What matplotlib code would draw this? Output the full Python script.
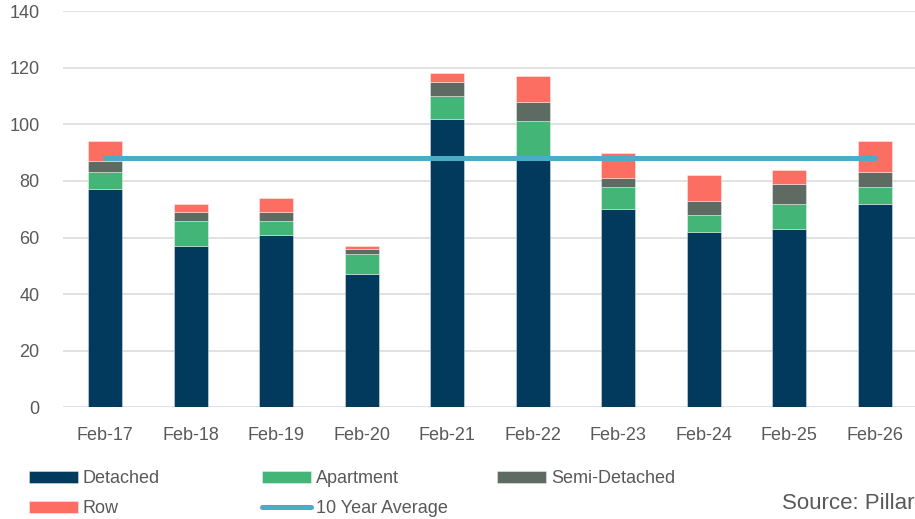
import numpy as np
import matplotlib
matplotlib.use("Agg")
import matplotlib.pyplot as plt

plt.rcParams['font.family'] = ['Liberation Sans', 'DejaVu Sans']

# data
months = ["Feb-17", "Feb-18", "Feb-19", "Feb-20", "Feb-21",
          "Feb-22", "Feb-23", "Feb-24", "Feb-25", "Feb-26"]
detached = [77, 57, 61, 47, 102, 88, 70, 62, 63, 72]
apartment = [6, 9, 5, 7, 8, 13, 8, 6, 9, 6]
semi_detached = [4, 3, 3, 2, 5, 7, 3, 5, 7, 5]
row = [7, 3, 5, 1, 3, 9, 9, 9, 5, 11]
ten_year_avg = [88] * len(months)

c_det = '#023A5E'
c_apt = '#42B577'
c_semi = '#5E6B63'
c_row = '#FD6E62'
c_avg = '#4BACC6'
txt = '#595959'

W, H = 915, 519
fig = plt.figure(figsize=(W / 100, H / 100), dpi=100)
ax = fig.add_axes([62.5 / W, (H - 407.3) / H, (W - 62.5) / W, (407.3 - 11.1) / H])

x = np.arange(len(months))
bw = 0.40
edge = (1, 1, 1, 0.45)
b1 = ax.bar(x, detached, bw, color=c_det, edgecolor=edge, linewidth=0.6, zorder=2)
bot = np.array(detached)
b2 = ax.bar(x, apartment, bw, bottom=bot, color=c_apt, edgecolor=edge, linewidth=0.6, zorder=2)
bot = bot + np.array(apartment)
b3 = ax.bar(x, semi_detached, bw, bottom=bot, color=c_semi, edgecolor=edge, linewidth=0.6, zorder=2)
bot = bot + np.array(semi_detached)
b4 = ax.bar(x, row, bw, bottom=bot, color=c_row, edgecolor=edge, linewidth=0.6, zorder=2)
ln, = ax.plot(x, ten_year_avg, color=c_avg, lw=3.6, solid_capstyle='round', zorder=3)

ax.set_xlim(-0.5, 9.47)
ax.set_ylim(0, 140)
ax.set_yticks(range(0, 141, 20))
ax.set_xticks(x)
ax.set_xticklabels(months)
ax.grid(axis='y', color='#D9D9D9', lw=1.1, zorder=0)
ax.set_axisbelow(True)
for s in ax.spines.values():
    s.set_visible(False)
ax.tick_params(axis='both', length=0, labelsize=13, labelcolor=txt)
ax.tick_params(axis='y', pad=16.5)
ax.tick_params(axis='x', pad=14)

# legend in three columns, like the original
leg_kw = dict(loc='upper left', frameon=False, fontsize=13, labelcolor=txt,
              handlelength=2.71, handleheight=0.66, handletextpad=0.28,
              labelspacing=0.72, borderpad=0, borderaxespad=0)
top = (H - 470) / H
l1 = fig.legend([b1, b4], ["Detached", "Row"], bbox_to_anchor=(29 / W, top), **leg_kw)
l2 = fig.legend([b2, ln], ["Apartment", "10 Year Average"], bbox_to_anchor=(262 / W, top), **leg_kw)
l3 = fig.legend([b3], ["Semi-Detached"], bbox_to_anchor=(497 / W, top), **leg_kw)

fig.text(782 / W, (H - 509) / H, "Source: Pillar", fontsize=16, color=txt,
         ha='left', va='baseline')

fig.savefig("out.png", dpi=100)
